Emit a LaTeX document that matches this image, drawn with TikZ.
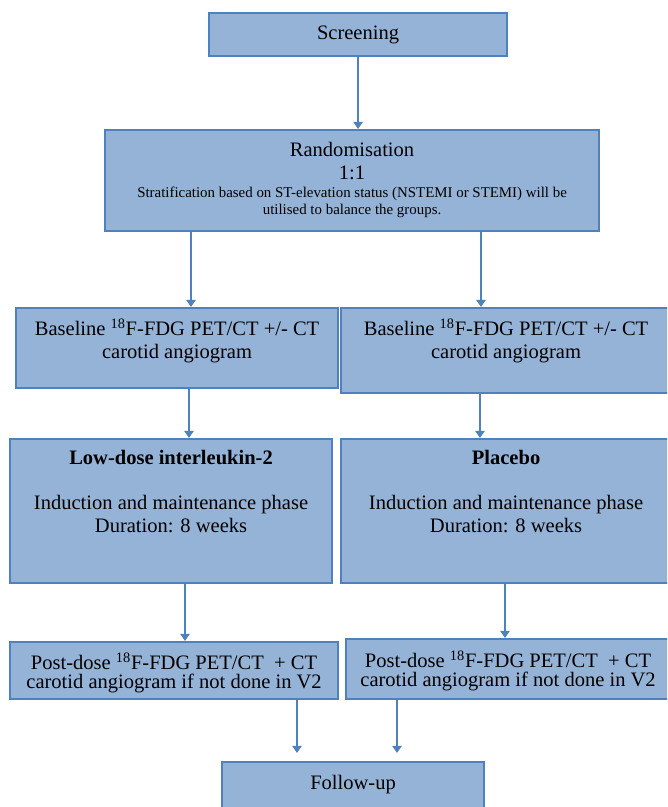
\documentclass[tikz,border=0pt]{standalone}
\usepackage{fontspec}
\setmainfont{Liberation Serif}
\usetikzlibrary{arrows.meta}

\definecolor{boxfill}{HTML}{95B3D7}
\definecolor{boxline}{HTML}{4F81BD}
\newlength\pxu
\setlength\pxu{0.025cm}
% width, height, top padding (in px), text
\newcommand{\boxbody}[4]{\parbox[t][#2\pxu][t]{#1\pxu}{\centering\vspace*{#3\pxu}#4}}

\tikzset{
  stepbox/.style = {draw = boxline, fill = boxfill, line width = 1.5pt, inner sep = 0pt,
    anchor = north west, font = \fontsize{14.6}{16.3}\selectfont},
  flow/.style = {draw = boxline, line width = 1.6pt, -{Triangle[width = 6.5pt, length = 5pt]}}
}

\begin{document}
\begin{tikzpicture} [x = 0.025cm, y = -0.025cm]
\useasboundingbox (0, 0) rectangle (667, 807);
\clip (0, 0) rectangle (667, 807);
\node[stepbox] (screen) at (208, 12) {\boxbody{298}{43}{13}{Screening}};
\node[stepbox] (rand) at (104, 129) {\boxbody{494}{101}{12}{Randomisation\\1:1\\[1pt]
  {\fontsize{10.6}{12.2}\selectfont Stratification based on ST-elevation status (NSTEMI or STEMI) will be\\ utilised to balance the groups.\par}}};
\node[stepbox] (baseL) at (15, 307) {\boxbody{322}{80}{11}{Baseline \textsuperscript{18}F-FDG PET/CT +/- CT\\carotid angiogram}};
\node[stepbox] (baseR) at (340, 307) {\boxbody{330}{85}{11}{Baseline \textsuperscript{18}F-FDG PET/CT +/- CT\\carotid angiogram}};
\node[stepbox] (treat) at (9, 438) {\boxbody{322}{144}{11}{\textbf{Low-dose interleukin-2}\\[16pt]Induction and maintenance phase\\Duration: 8 weeks}};
\node[stepbox] (plac) at (340, 438) {\boxbody{330}{144}{11}{\textbf{Placebo}\\[16pt]Induction and maintenance phase\\Duration: 8 weeks}};
\node[stepbox, font = \fontsize{14.6}{13.5}\selectfont] (postL) at (9, 641) {\boxbody{328}{57}{11}{Post-dose \textsuperscript{18}F-FDG PET/CT~ + CT\\carotid angiogram if not done in V2}};
\node[stepbox, font = \fontsize{14.6}{13.5}\selectfont] (postR) at (345, 638) {\boxbody{324}{60}{12}{Post-dose \textsuperscript{18}F-FDG PET/CT~ + CT\\carotid angiogram if not done in V2}};
\node[stepbox] (follow) at (221, 761) {\boxbody{262}{70}{13}{Follow-up}};

\draw[flow] (screen.south) -- (screen.south |- rand.north);
\draw[flow] (rand.south -| 191, 0) -- (baseL.north -| 191, 0);
\draw[flow] (rand.south -| 481, 0) -- (baseR.north -| 481, 0);
\draw[flow] (baseL.south -| 189, 0) -- (treat.north -| 189, 0);
\draw[flow] (baseR.south -| 480, 0) -- (plac.north -| 480, 0);
\draw[flow] (treat.south -| 185, 0) -- (postL.north -| 185, 0);
\draw[flow] (plac.south -| 505, 0) -- (postR.north -| 505, 0);
\draw[flow, shorten > = 0.2cm] (postL.south -| 297, 0) -- (follow.north -| 297, 0);
\draw[flow, shorten > = 0.2cm] (postR.south -| 397, 0) -- (follow.north -| 397, 0);
\end{tikzpicture}
\end{document}
